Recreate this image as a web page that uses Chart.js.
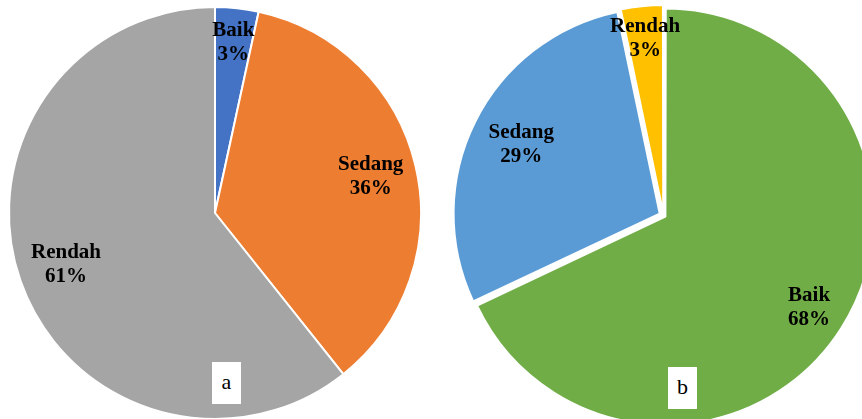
<!DOCTYPE html>
<html>
<head>
<meta charset="utf-8">
<script src="https://cdn.jsdelivr.net/npm/chart.js@4.4.0/dist/chart.umd.min.js"></script>
<style>
  html, body { margin: 0; padding: 0; background: #fff; overflow: hidden; }
  body { width: 862px; height: 419px; position: relative; }
  canvas { position: absolute; }
  .tag {
    position: absolute; background: #fff; color: #000;
    font: 22px "Liberation Serif", serif; text-align: center;
    width: 29px; height: 42px; line-height: 40px;
  }
</style>
</head>
<body>
<canvas id="pieA" width="430" height="426" style="left:0;top:0"></canvas>
<canvas id="pieB" width="429" height="431" style="left:449px;top:0"></canvas>
<div class="tag" style="left:212px;top:362px">a</div>
<div class="tag" style="left:668px;top:367px">b</div>
<script>
// chart a (slice sizes, labels show them rounded)
const categoriesA = ['Baik', 'Sedang', 'Rendah'];
const valuesA = [3.4, 35.9, 60.7];
const colorsA = ['#4472C4', '#ED7D31', '#A5A5A5'];

// chart b
const categoriesB = ['Baik', 'Sedang', 'Rendah'];
const valuesB = [68, 28.7, 3.3];
const colorsB = ['#70AD47', '#5B9BD5', '#FFC000'];

// where the text sits, as a share of the radius
const labelRadiusA = [0.834, 0.776, 0.766];
const labelRadiusB = [0.815, 0.75, 0.84];

/**
 * Writes "name / value%" inside each slice, following the arc's own offset.
 */
const sliceLabels = {
    id: 'sliceLabels',
    afterDatasetsDraw(chart, args, opts) {
        const ctx = chart.ctx;
        const meta = chart.getDatasetMeta(0);
        const data = chart.data.datasets[0].data;
        ctx.save();
        ctx.font = 'bold 21px "Liberation Serif", serif';
        ctx.fillStyle = '#000';
        ctx.textAlign = 'center';
        ctx.textBaseline = 'middle';
        meta.data.forEach((arc, i) => {
            const p = arc.getProps(['x', 'y', 'startAngle', 'endAngle', 'outerRadius'], true);
            const mid = (p.startAngle + p.endAngle) / 2;
            // same shift that ArcElement.draw applies
            const o = (arc.options.offset || 0) / 4;
            const fix = 1 - Math.sin(Math.min(Math.PI, p.endAngle - p.startAngle));
            const r = p.outerRadius * opts.radius[i] + o * (1 + fix);
            const x = p.x + Math.cos(mid) * r;
            const y = p.y + Math.sin(mid) * r;
            ctx.fillText(chart.data.labels[i], x, y - 12);
            ctx.fillText(Math.round(data[i]) + '%', x, y + 12);
        });
        ctx.restore();
    }
};

function makePie(id, labels, values, colors, offsets, labelRadius) {
    return new Chart(document.getElementById(id), {
        type: 'pie',
        data: {
            labels: labels,
            datasets: [{
                data: values,
                backgroundColor: colors,
                borderColor: '#fff',
                borderWidth: 2,
                offset: offsets,
                hoverOffset: 0,
                radius: 206
            }]
        },
        options: {
            responsive: false,
            animation: false,
            layout: { padding: 0 },
            events: [],
            plugins: {
                legend: { display: false },
                tooltip: { enabled: false },
                sliceLabels: { radius: labelRadius }
            }
        },
        plugins: [sliceLabels]
    });
}

makePie('pieA', categoriesA, valuesA, colorsA, [0, 0, 0], labelRadiusA);
makePie('pieB', categoriesB, valuesB, colorsB, [9, 17, 10], labelRadiusB);
</script>
</body>
</html>
